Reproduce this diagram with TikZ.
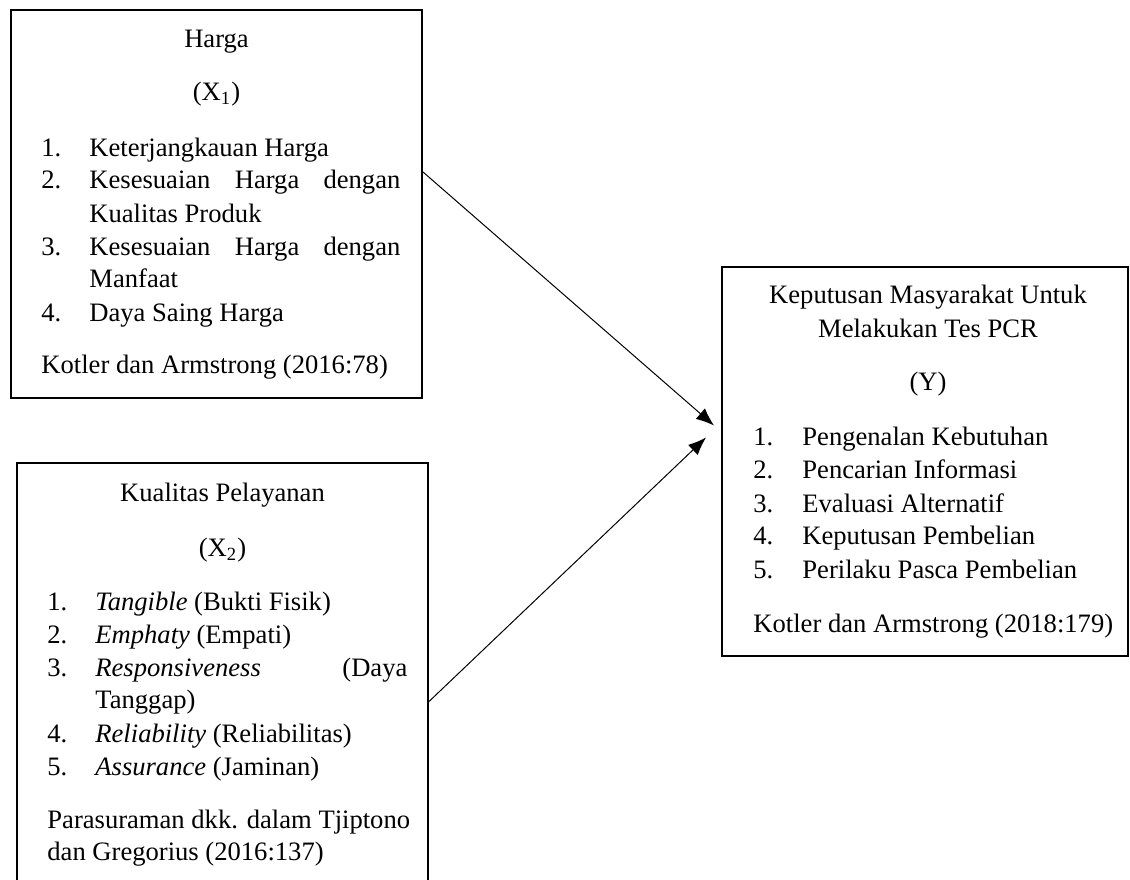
\documentclass[tikz,border=0pt]{standalone}
\usepackage{fontspec}
\setmainfont{Liberation Serif}
\usetikzlibrary{arrows.meta}

\tikzset{kotak/.style={draw,line width=1pt,inner sep=0pt},
  teks/.style={anchor=base west,inner sep=0pt,font=\fontsize{13.3}{15}\selectfont},
  judul/.style={teks,anchor=base},
  panah/.style={-{Latex[length=9pt,width=7pt]},line width=0.5pt}}

\begin{document}
\begin{tikzpicture}[x=0.5pt,y=-0.5pt]
\clip (0,0) rectangle (1130,879);
% kotak
\node[kotak,minimum width=205.5pt,minimum height=194pt] (harga) at (216.5,204) {};
\node[kotak,minimum width=205.5pt,minimum height=218.5pt] (pelayanan) at (222.5,681.5) {};
\node[kotak,minimum width=203pt,minimum height=194.5pt] (keputusan) at (925,461.5) {};
% X1
\node[judul] (hjudul) at (216.5,47) {Harga};
\node[judul] (hvar) at (216.5,100) {(X\textsubscript{1})};
\foreach \n/\y/\t in {1/156/{Keterjangkauan Harga},
  2/188/{\makebox[155.5pt][l]{Kesesuaian\hfill Harga\hfill dengan}},
  3/255/{\makebox[155.5pt][l]{Kesesuaian\hfill Harga\hfill dengan}},
  4/321/{Daya Saing Harga}}{
  \node[teks] (hno\n) at (41,\y) {\n.};
  \node[teks] (hitem\n) at (89,\y) {\t};
}
\node[teks] (hitem2b) at (89,222) {Kualitas Produk};
\node[teks] (hitem3b) at (89,287) {Manfaat};
\node[teks] (hsumber) at (41,373) {Kotler dan Armstrong (2016:78)};
% X2
\node[judul] (pjudul) at (222.5,501) {Kualitas Pelayanan};
\node[judul] (pvar) at (222.5,556) {(X\textsubscript{2})};
\foreach \n/\y/\t in {1/610/{\textit{Tangible} (Bukti Fisik)},
  2/643/{\textit{Emphaty} (Empati)},
  3/676/{\makebox[156pt][l]{\textit{Responsiveness}\hfill(Daya}},
  4/742/{\textit{Reliability} (Reliabilitas)},
  5/775/{\textit{Assurance} (Jaminan)}}{
  \node[teks] (pno\n) at (47,\y) {\n.};
  \node[teks] (pitem\n) at (95,\y) {\t};
}
\node[teks] (pitem3b) at (95,708) {Tanggap)};
\node[teks] (psumber) at (47,828) {Parasuraman dkk. dalam Tjiptono};
\node[teks] (psumberb) at (47,860) {dan Gregorius (2016:137)};
% Y
\node[judul] (kjudul) at (928,303) {Keputusan Masyarakat Untuk};
\node[judul] (kjudulb) at (928,337) {Melakukan Tes PCR};
\node[judul] (kvar) at (928,390) {(Y)};
\foreach \n/\y/\t in {1/445/{Pengenalan Kebutuhan},
  2/478/{Pencarian Informasi},
  3/512/{Evaluasi Alternatif},
  4/544/{Keputusan Pembelian},
  5/578/{Perilaku Pasca Pembelian}}{
  \node[teks] (kno\n) at (753,\y) {\n.};
  \node[teks] (kitem\n) at (802,\y) {\t};
}
\node[teks] (ksumber) at (753,632) {Kotler dan Armstrong (2018:179)};
% panah
\draw[panah] ([yshift=16pt]harga.east) -- ([xshift=-3.5pt,yshift=18pt]keputusan.west);
\draw[panah] ([yshift=-10pt]pelayanan.east) -- ([xshift=-7.5pt,yshift=12pt]keputusan.west);
\end{tikzpicture}
\end{document}
